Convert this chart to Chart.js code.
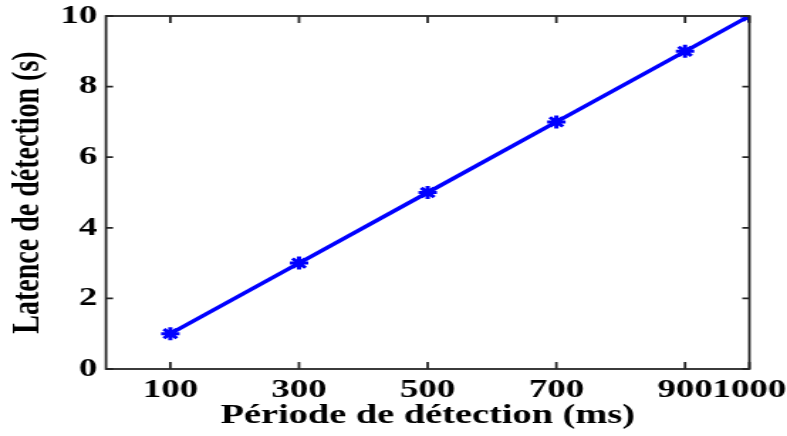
<!DOCTYPE html>
<html>
<head>
<meta charset="utf-8">
<script src="https://cdn.jsdelivr.net/npm/chart.js@4"></script>
<style>
html,body{margin:0;padding:0;background:#fff;overflow:hidden;}
#wrap{width:554px;height:436px;transform:scale(1.4206,1);transform-origin:0 0;}
canvas{display:block;}
</style>
</head>
<body>
<div id="wrap"><canvas id="c" width="554" height="436"></canvas></div>
<script>
const periods = [100, 300, 500, 700, 900, 1000];
const latency = [1, 3, 5, 7, 9, 10];
const xTickValues = [100, 300, 500, 700, 900, 1000];
const yTickValues = [0, 2, 4, 6, 8, 10];
const xTitle = 'Période de détection (ms)';
const yTitle = 'Latence de détection (s)';

const AXIS = '#262626';
const FONT = 'Liberation Serif';

const boxPlugin = {
  id: 'box',
  afterDatasetsDraw(chart) {
    const {ctx, chartArea: a, scales: {x, y}} = chart;
    ctx.save();
    ctx.strokeStyle = AXIS;
    ctx.lineWidth = 1.8;
    ctx.strokeRect(a.left, a.top, a.right - a.left, a.bottom - a.top);
    const tl = 5;
    ctx.beginPath();
    xTickValues.forEach(v => {
      const px = x.getPixelForValue(v);
      ctx.moveTo(px, a.bottom); ctx.lineTo(px, a.bottom - 7);
      ctx.moveTo(px, a.top); ctx.lineTo(px, a.top + 7);
    });
    yTickValues.forEach(v => {
      const py = y.getPixelForValue(v);
      ctx.moveTo(a.left, py); ctx.lineTo(a.left + tl, py);
      ctx.moveTo(a.right, py); ctx.lineTo(a.right - tl, py);
    });
    ctx.stroke();
    ctx.restore();
  }
};

new Chart(document.getElementById('c'), {
  type: 'line',
  data: {
    datasets: [{
      data: periods.map((p, i) => ({x: p, y: latency[i]})),
      borderColor: '#0000ff',
      backgroundColor: '#0000ff',
      borderWidth: 3.5,
      pointStyle: 'star',
      pointRadius: 6.5,
      pointBorderWidth: 3,
      pointBorderColor: '#0000ff',
      tension: 0,
      clip: 0
    }]
  },
  options: {
    responsive: false,
    animation: false,
    devicePixelRatio: 1,
    layout: {padding: {top: 16, right: 26.5, left: 0, bottom: 0}},
    plugins: {legend: {display: false}, tooltip: {enabled: false}},
    scales: {
      x: {
        type: 'linear', min: 0, max: 1000,
        afterBuildTicks: s => { s.ticks = xTickValues.map(v => ({value: v})); },
        afterFit: s => { s.height = 67; s.paddingLeft = 0; s.paddingRight = 0; },
        grid: {display: false, drawTicks: false},
        border: {display: false},
        ticks: {autoSkip: false, maxRotation: 0, padding: 6, color: '#000',
          callback: v => String(v),
          font: {family: FONT, size: 26, weight: 'bold'}},
        title: {display: true, text: xTitle, color: '#000', padding: {top: 0, bottom: 4},
          font: {family: FONT, size: 27, weight: 'bold'}}
      },
      y: {
        type: 'linear', min: 0, max: 10,
        afterBuildTicks: s => { s.ticks = yTickValues.map(v => ({value: v})); },
        afterFit: s => { s.width = 74.6; s.paddingTop = 0; s.paddingBottom = 0; },
        grid: {display: false, drawTicks: false},
        border: {display: false},
        ticks: {padding: 6, color: '#000', callback: v => String(v),
          font: {family: FONT, size: 26, weight: 'bold'}},
        title: {display: true, text: yTitle, color: '#000', padding: {top: 3, bottom: 0},
          font: {family: FONT, size: 28, weight: 'bold'}}
      }
    }
  },
  plugins: [boxPlugin]
});
</script>
</body>
</html>
